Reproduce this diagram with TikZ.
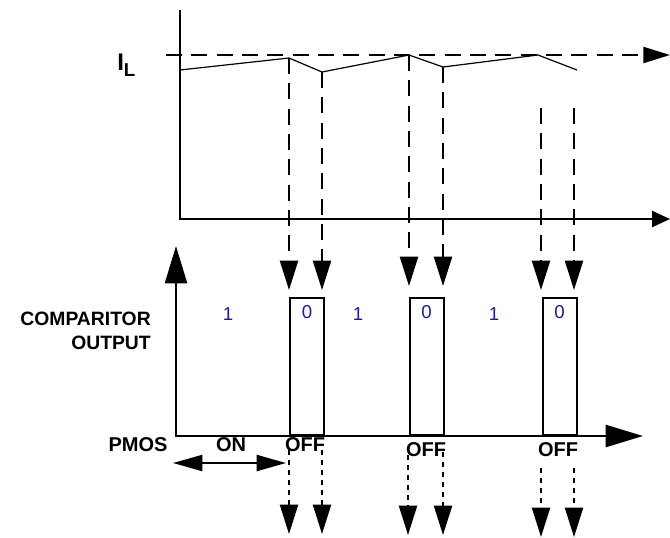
\documentclass[tikz,border=0pt]{standalone}
\usepackage{fontspec}
\setmainfont{Liberation Sans}
\usetikzlibrary{arrows.meta}
\definecolor{digitblue}{RGB}{25,25,175}

\begin{document}
\begin{tikzpicture}[x=0.75pt, y=-0.75pt,
    axis/.style={line width=1.9pt},
    wave/.style={line width=0.9pt},
    dashline/.style={line width=1.7pt, dash pattern=on 12pt off 7pt},
    dotline/.style={line width=1.6pt, dash pattern=on 4pt off 3.5pt},
    drop/.style={-{Triangle[length=22pt, width=13.5pt]}},
    pulse/.style={rectangle, draw, line width=1.5pt, inner sep=0pt,
        minimum width=25.5pt, minimum height=102.75pt, anchor=south west},
    lbl/.style={font=\bfseries\fontsize{15}{18}\selectfont, inner sep=0pt},
    bit/.style={font=\fontsize{14}{16}\selectfont, text=digitblue, inner sep=0pt}]
    \useasboundingbox (0,0) rectangle (670,537);

    \draw (180,10) coordinate (ytop);
    \draw (180,219) coordinate (otop);
    \draw (670,219) coordinate (xtop);
    \draw[axis, -{Triangle[length=13.5pt, width=12pt]}] (ytop) -- (otop) -- (xtop);

    \draw (166,55) coordinate (ila);
    \draw (670,55) coordinate (ilb);
    \draw[dashline, -{Triangle[length=20pt, width=12pt]}] (ila) -- (ilb);
    \draw (117,70) node[anchor=base west, inner sep=0pt]
        {\bfseries\fontsize{18}{20}\selectfont I\raisebox{-4.5pt}{\fontsize{14}{16}\selectfont L}};

    \draw (180,70) coordinate (w0);
    \draw (289,58) coordinate (w1);
    \draw (322,72) coordinate (w2);
    \draw (409,55) coordinate (w3);
    \draw (443,67) coordinate (w4);
    \draw (538,55) coordinate (w5);
    \draw (577,70) coordinate (w6);
    \draw[wave] (w0) -- (w1) -- (w2) -- (w3) -- (w4) -- (w5) -- (w6);

    \draw (541,108) coordinate (s5);
    \draw (574,108) coordinate (s6);
    \draw (289,290) coordinate (t1);
    \draw (322,290) coordinate (t2);
    \draw (409,286) coordinate (t3);
    \draw (443,286) coordinate (t4);
    \draw (541,290) coordinate (t5);
    \draw (574,290) coordinate (t6);
    \draw[dashline, drop] (w1) -- (t1);
    \draw[dashline, drop] (w2) -- (t2);
    \draw[dashline, drop] (w3) -- (t3);
    \draw[dashline, drop] (w4) -- (t4);
    \draw[dashline, drop] (s5) -- (t5);
    \draw[dashline, drop] (s6) -- (t6);

    \draw (176,246) coordinate (ybot);
    \draw (176,436) coordinate (obot);
    \draw (643,436) coordinate (xbot);
    \draw[axis, {Triangle[length=28pt, width=16.5pt]}-{Triangle[length=28pt, width=16.5pt]}]
        (ybot) -- (obot) -- (xbot);

    \draw (289,436) node[pulse] (p1) {};
    \draw (408.5,436) node[pulse] (p2) {};
    \draw (541.5,436) node[pulse] (p3) {};

    \draw (228,314) node[bit] (b1) {1};
    \draw (p1.north) ++(0,15) node[bit] (b2) {0};
    \draw (358,314) node[bit] (b3) {1};
    \draw (p2.north) ++(0,15) node[bit] (b4) {0};
    \draw (494,314) node[bit] (b5) {1};
    \draw (p3.north) ++(0,15) node[bit] (b6) {0};

    \draw (151,331) node[anchor=east, align=right, inner sep=0pt,
        font=\bfseries\fontsize{14.5}{18}\selectfont] (cmp) {COMPARITOR\\OUTPUT};
    \draw (138,445) node[lbl] (pmos) {PMOS};
    \draw (231,445) node[lbl] (on) {ON};
    \draw (173,463) coordinate (ona);
    \draw (286,463) coordinate (onb);
    \draw[line width=1.6pt, {Triangle[length=22pt, width=12pt]}-{Triangle[length=22pt, width=12pt]}]
        (ona) -- (onb);

    \draw (289,450) coordinate (d1);
    \draw (322,450) coordinate (d2);
    \draw (408,455) coordinate (d3);
    \draw (443,452) coordinate (d4);
    \draw (541,468) coordinate (d5);
    \draw (574,468) coordinate (d6);
    \draw (289,534) coordinate (e1);
    \draw (322,534) coordinate (e2);
    \draw (408,535) coordinate (e3);
    \draw (443,535) coordinate (e4);
    \draw (541,537) coordinate (e5);
    \draw (574,537) coordinate (e6);
    \draw[dotline, drop] (d1) -- (e1);
    \draw[dotline, drop] (d2) -- (e2);
    \draw[dotline, drop] (d3) -- (e3);
    \draw[dotline, drop] (d4) -- (e4);
    \draw[dotline, drop] (d5) -- (e5);
    \draw[dotline, drop] (d6) -- (e6);

    \draw (305,445) node[lbl] (off1) {OFF};
    \draw (426,450) node[lbl] (off2) {OFF};
    \draw (558,450) node[lbl] (off3) {OFF};
\end{tikzpicture}
\end{document}
